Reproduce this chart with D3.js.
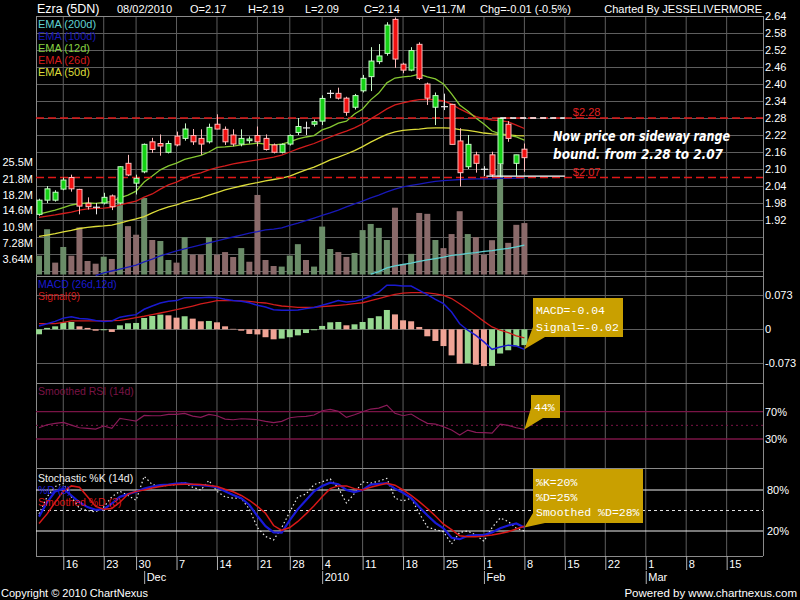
<!DOCTYPE html>
<html><head><meta charset="utf-8">
<script src="https://cdn.jsdelivr.net/npm/d3@7"></script>
<style>
html,body{margin:0;padding:0;background:#000;}
svg{display:block;}
text{font-family:"Liberation Sans",Arial,sans-serif;}
</style></head><body>
<svg id="c" width="800" height="600"></svg>
<script>
// ---------------- DATA ----------------
const headerItems = ["Ezra (5DN)","08/02/2010","O=2.17","H=2.19","L=2.09","C=2.14","V=11.7M","Chg=-0.01 (-0.5%)"];
const chartedBy = "Charted By JESSELIVERMORE";
const prevClose = 1.93;
const open  = [1.94,1.99,1.99,2.029,2.07,2.028,1.979,1.965,1.98,2.005, 1.98,2.12,2.05,2.09,2.196,2.19,2.159,2.216,2.208,2.218, 2.208,2.196,2.258,2.24,2.22,2.188,2.2,2.218,2.208,2.185, 2.159,2.188,2.229,2.245,2.258,2.269,2.367,2.367,2.35,2.318, 2.376,2.426,2.479,2.508,2.628,2.47,2.449,2.54,2.40,2.318, 2.32,2.328,2.199,2.108,2.15,2.099,2.15,2.118,2.258,2.12, 2.17];
const high  = [1.995,2.04,2.025,2.07,2.08,2.03,2.00,1.98,2.016,2.01, 2.11,2.15,2.08,2.19,2.21,2.222,2.20,2.232,2.261,2.241, 2.24,2.26,2.293,2.25,2.24,2.24,2.215,2.25,2.222,2.19, 2.19,2.222,2.28,2.267,2.275,2.36,2.379,2.387,2.355,2.365, 2.432,2.53,2.541,2.618,2.635,2.475,2.53,2.547,2.405,2.37, 2.366,2.33,2.244,2.22,2.161,2.11,2.161,2.28,2.269,2.15, 2.19];
const low   = [1.935,1.98,1.985,2.025,2.02,1.94,1.957,1.94,1.975,1.955, 1.975,2.075,2.01,2.085,2.157,2.147,2.155,2.18,2.20,2.185, 2.15,2.19,2.24,2.185,2.18,2.18,2.19,2.18,2.165,2.155, 2.155,2.183,2.22,2.22,2.25,2.255,2.35,2.345,2.288,2.31, 2.37,2.375,2.47,2.50,2.457,2.438,2.445,2.414,2.326,2.255, 2.308,2.187,2.038,2.10,2.087,2.075,2.073,2.073,2.196,2.076, 2.09];
const close = [1.99,2.03,2.018,2.061,2.03,1.969,1.967,1.965,2.0,1.967, 2.108,2.079,2.067,2.187,2.169,2.181,2.19,2.185,2.241,2.196, 2.188,2.247,2.241,2.196,2.188,2.208,2.206,2.196,2.169,2.159, 2.187,2.218,2.25,2.245,2.267,2.349,2.367,2.35,2.30,2.359, 2.42,2.481,2.499,2.608,2.488,2.449,2.518,2.42,2.35,2.359, 2.32,2.187,2.087,2.187,2.12,2.099,2.079,2.279,2.208,2.15, 2.14];
const volume = [4.28,10.3,2.7,6.26,4.28,10.7,3.07,2.46,4.05,3.53, 17.6,11.0,9.05,17.4,7.85,7.62,3.3,2.7,8.5,4.5, 4.5,8.5,4.5,5.1,3.98,6.0,2.9,18.1,3.3,1.93, 1.8,4.3,6.9,3.3,1.8,10.9,5.8,5.1,4.0,4.9, 10.1,11.5,10.6,7.85,15.2,2.4,4.7,14.0,13.8,7.85, 6.0,9.2,14.4,9.2,8.5,4.5,7.8,25.0,7.2,11.3, 11.7];
const ema12 = [1.941,1.948,1.955,1.964,1.973,1.978,1.980,1.979,1.982,1.985, 1.998,2.008,2.022,2.054,2.075,2.097,2.111,2.121,2.134,2.141, 2.148,2.160,2.176,2.178,2.181,2.185,2.188,2.191,2.188,2.185, 2.188,2.196,2.206,2.213,2.218,2.238,2.248,2.262,2.269,2.294, 2.312,2.344,2.368,2.404,2.421,2.425,2.428,2.435,2.425,2.418, 2.400,2.365,2.326,2.305,2.280,2.259,2.234,2.224,2.220,2.213, 2.202];
const ema26 = [1.929,1.934,1.938,1.943,1.948,1.955,1.959,1.961,1.962,1.965, 1.973,1.980,1.987,2.001,2.012,2.029,2.044,2.054,2.068,2.079, 2.086,2.097,2.105,2.111,2.118,2.123,2.128,2.132,2.137,2.142, 2.149,2.160,2.171,2.181,2.190,2.202,2.213,2.224,2.234,2.245, 2.259,2.277,2.294,2.312,2.326,2.333,2.340,2.345,2.346,2.345, 2.340,2.329,2.312,2.298,2.285,2.278,2.273,2.271,2.266,2.255, 2.243];
const ema50 = [1.862,1.867,1.872,1.878,1.883,1.890,1.894,1.897,1.899,1.902, 1.909,1.917,1.924,1.932,1.945,1.957,1.966,1.973,1.984,1.991, 1.998,2.008,2.017,2.026,2.033,2.040,2.047,2.052,2.058,2.063, 2.068,2.075,2.086,2.097,2.107,2.119,2.132,2.142,2.153,2.165, 2.179,2.195,2.209,2.222,2.231,2.236,2.239,2.241,2.244,2.245, 2.245,2.244,2.239,2.236,2.232,2.227,2.224,2.222,2.220,2.218, 2.217];
const ema100 = [null,null,null,null,null,null,null,1.724,1.733,1.740, 1.747,1.754,1.761,1.772,1.782,1.793,1.802,1.811,1.818,1.825, 1.832,1.839,1.846,1.853,1.860,1.867,1.874,1.879,1.885,1.888, 1.892,1.901,1.909,1.918,1.927,1.936,1.945,1.955,1.966,1.977, 1.987,1.998,2.008,2.019,2.029,2.037,2.042,2.047,2.052,2.056, 2.059,2.061,2.063,2.064,2.065,2.065,2.065,2.067,2.067,2.068, 2.068];
const ema200 = [null,null,null,null,null,null,null,null,null,null, null,null,null,null,null,null,null,null,null,null, null,null,null,null,null,null,null,null,null,null, null,null,null,null,null,null,null,null,null,null, null,1.729,1.738,1.751,1.758,1.763,1.768,1.774,1.779,1.784, 1.789,1.795,1.798,1.802,1.805,1.809,1.812,1.816,1.820,1.825, 1.831];
const macd = [0.0072,0.012,0.017,0.024,0.027,0.023,0.022,0.019,0.017,0.018, 0.026,0.029,0.0315,0.043,0.050,0.0565,0.060,0.0616,0.068,0.068, 0.068,0.0687,0.068,0.0644,0.0616,0.060,0.057,0.0515,0.048,0.042, 0.041,0.041,0.0415,0.0444,0.047,0.0515,0.0565,0.0616,0.0587,0.060, 0.0644,0.0716,0.080,0.0945,0.0945,0.093,0.093,0.0837,0.0744,0.0644, 0.055,0.0372,0.012,-0.002,-0.013,-0.027,-0.043,-0.038,-0.034,-0.036, -0.043];
const signal = [0.012,0.012,0.012,0.015,0.018,0.018,0.018,0.018,0.018,0.0185, 0.019,0.022,0.025,0.028,0.0315,0.035,0.0387,0.042,0.0458,0.050, 0.0544,0.058,0.0616,0.0616,0.0616,0.061,0.060,0.058,0.0565,0.053, 0.050,0.0485,0.047,0.047,0.047,0.0485,0.050,0.0515,0.053,0.055, 0.057,0.0615,0.066,0.0705,0.075,0.0775,0.0787,0.0787,0.078,0.076, 0.073,0.066,0.055,0.043,0.030,0.017,0.005,-0.002,-0.007,-0.014, -0.0186];
const hist = [-0.0107,0.003,0.0064,0.015,0.0157,0.0064,0.003,-0.003,-0.002,-0.0057, 0.0086,0.0129,0.0136,0.0243,0.0286,0.0315,0.030,0.025,0.028,0.0229, 0.0172,0.0179,0.015,0.0064,0.001,-0.003,-0.010,-0.011,-0.017,-0.0215, -0.020,-0.017,-0.013,-0.008,-0.002,0.0072,0.015,0.0157,0.0086,0.0107, 0.0157,0.024,0.028,0.0415,0.032,0.0193,0.0172,0.005,-0.015,-0.025, -0.036,-0.056,-0.074,-0.073,-0.076,-0.079,-0.0785,-0.052,-0.045,-0.0365, -0.034];
const rsi = [46.5,50.9,52.9,54.4,50.4,46.5,45.6,44.6,49,45.6, 60.2,58.2,56.3,64.6,64.1,64.1,66.1,66.1,67.6,63.6, 61.7,66.1,64.1,59.2,58.2,59.7,59.2,58.2,55.9,53.9, 55.9,61.1,62.6,63.1,65.1,71.4,73.4,70.5,61.7,65.6, 70,73.9,75.3,79.7,67.6,64.1,66.6,59.2,52.9,51.9, 48,43.1,35.8,43.1,39.7,39.2,38.7,51.9,50,46.5, 44];
const stochK = [45,70,85,90,70,53,50,48,55,70, 78,72,65,100,88,85,87,88,91,84, 80,94,78,70,68,68,52,25,12,7, 25,48,70,74,88,92,96,83,61,75, 92,90,93,97,68,64,68,46,26,22, 19,1,18,20,14,5,25,39,34,24, 20];
const stochD = [41,62,78,82,72,62,55,51,52,60, 70,74,77.5,82,85,87,88,89.5,90,88, 87,86,84,78,72.7,68,58,42,27,18, 17.6,36,52,65,78,86,90.7,88.5,80,77, 80,88,89,90,82,76,68,55,43,32, 24,10,8,13,14,14,18,24,28,31, 25];
const stochSD = [31,45,62,78,86,84,70,56,52,53, 62,74,78,80,83,85,87,88,88.5,88.5, 88,86.5,85,81,77.5,72,65,56,46,28, 21,25,34,45,57,70,82,86,86,82, 80,84,87,90,87,80,72,63,53,42, 30,22,13,11.7,11.7,12.5,14,16.5,19,23, 27];
// trading-day index of weekly ticks and month starts (Nov 11 2009 = 0)
const weekIdx = [3,8,12,17,22,27,31,35,40,45,50,55,60,65,70,75,80,85];
const weekLabels = ["16","23","30","7","14","21","28","4","11","18","25","1","8","15","22","1","8","15"];
const monthIdx = [13,35,55,75];
const monthLabels = ["Dec","2010","Feb","Mar"];
const priceTicks = [2.64,2.58,2.52,2.46,2.40,2.34,2.28,2.22,2.16,2.10,2.04,1.98,1.92];
const priceGrid = [2.64,2.58,2.52,2.46,2.40,2.34,2.28,2.22,2.16,2.10,2.04,1.98,1.92,1.86,1.80,1.74];
const volTicks = [3.64,7.28,10.9,14.6,18.2,21.8,25.5];
const volLabels = ["3.64M","7.28M","10.9M","14.6M","18.2M","21.8M","25.5M"];
const macdTicks = [0.073,0,-0.073];
const macdLabels = ["0.073","0","-0.073"];
const rsiTicks = [70,30];
const stochTicks = [80,20];
const levels = [2.28,2.07];
const levelLabels = ["$2.28","$2.07"];
const emaLegend = ["EMA (200d)","EMA (100d)","EMA (12d)","EMA (26d)","EMA (50d)"];
const noteLines = ["Now price on sideway range","bound. from 2.28 to 2.07"];
const macdNote = ["MACD=-0.04","Signal=-0.02"];
const rsiNote = ["44%"];
const stochNote = ["%K=20%","%D=25%","Smoothed %D=28%"];

// ---------------- LAYOUT ----------------
const L = 36, R = 763;
const P = {price:[16,276], macd:[276,383], rsi:[383,468], stoch:[468,556]};
const x = d3.scaleLinear().domain([0,60]).range([39,524.4]);
const yP = d3.scaleLinear().domain([1.72,2.64]).range([276.67,16]);
const yV = d3.scaleLinear().domain([0,3.64]).range([274.5,258.5]);
const yM = d3.scaleLinear().domain([-0.073,0.073]).range([363.3,295.3]);
const yR = d3.scaleLinear().domain([30,70]).range([439,411.7]);
const yS = d3.scaleLinear().domain([20,80]).range([531,490]);

const GRID = "#5e5e5e", BORDER = "#8a8a8a";
const svg = d3.select("#c");
svg.append("rect").attr("width",800).attr("height",600).attr("fill","#000");
const defs = svg.append("defs");
function clip(id, y0, y1){
  defs.append("clipPath").attr("id",id).append("rect")
    .attr("x",L).attr("y",y0).attr("width",R-L).attr("height",y1-y0);
}
clip("cp",P.price[0],P.price[1]); clip("cm",P.macd[0],P.macd[1]);
clip("cr",P.rsi[0],P.rsi[1]); clip("cs",P.stoch[0],P.stoch[1]);

// grid
const grid = svg.append("g");
grid.selectAll("line.v").data(weekIdx).join("line")
  .attr("x1",d=>x(d)).attr("x2",d=>x(d)).attr("y1",P.price[0]).attr("y2",P.stoch[1])
  .attr("stroke",GRID).attr("stroke-width",1);
grid.selectAll("line.hp").data(priceGrid).join("line")
  .attr("x1",L).attr("x2",R).attr("y1",d=>Math.round(yP(d))+0.5).attr("y2",d=>Math.round(yP(d))+0.5)
  .attr("stroke",GRID);
grid.selectAll("line.hm").data(macdTicks).join("line")
  .attr("x1",L).attr("x2",R).attr("y1",d=>Math.round(yM(d))+0.5).attr("y2",d=>Math.round(yM(d))+0.5)
  .attr("stroke",GRID);
// panel borders
[P.price[0],P.price[1],P.macd[1],P.rsi[1],P.stoch[1]].forEach(y=>{
  grid.append("line").attr("x1",L).attr("x2",R).attr("y1",y+0.5).attr("y2",y+0.5).attr("stroke",BORDER);
});
[L,R].forEach(xx=>grid.append("line").attr("x1",xx+0.5).attr("x2",xx+0.5).attr("y1",P.price[0]).attr("y2",P.stoch[1]).attr("stroke",BORDER));

// RSI reference lines
const rsiG = svg.append("g");
rsiTicks.forEach(v=>rsiG.append("line").attr("x1",L).attr("x2",R).attr("y1",yR(v)).attr("y2",yR(v)).attr("stroke","#7a1446").attr("stroke-width",1.3));
rsiG.append("line").attr("x1",L).attr("x2",R).attr("y1",yR(50)).attr("y2",yR(50)).attr("stroke","#7a1446").attr("stroke-dasharray","2,3");
// Stoch reference lines
const stG = svg.append("g");
stochTicks.forEach(v=>stG.append("line").attr("x1",L).attr("x2",R).attr("y1",yS(v)).attr("y2",yS(v)).attr("stroke","#f0f0f0").attr("stroke-width",1.2));
stG.append("line").attr("x1",L).attr("x2",R).attr("y1",yS(50)).attr("y2",yS(50)).attr("stroke","#e0e0e0").attr("stroke-dasharray","3,3");

// ---------------- PRICE PANEL ----------------
const pg = svg.append("g").attr("clip-path","url(#cp)");
const vol = volume.map((v,i)=>({i,v,up: close[i] >= (i? close[i-1] : prevClose)}));
pg.selectAll("rect.vol").data(vol).join("rect")
  .attr("x",d=>x(d.i)-3).attr("width",6)
  .attr("y",d=>yV(d.v)).attr("height",d=>yV(0)-yV(d.v))
  .attr("fill",d=>d.up?"#6a8c68":"#8a6a6a");

const lineP = d3.line().defined(d=>d!=null).x((d,i)=>x(i)).y(d=>yP(d));
[[ema200,"#5fd0d0"],[ema100,"#1818b8"],[ema50,"#dcdc3a"],[ema26,"#d21c1c"],[ema12,"#86c832"]].forEach(([arr,c])=>{
  pg.append("path").datum(arr).attr("d",lineP).attr("fill","none").attr("stroke",c).attr("stroke-width",1.3);
});

// level lines
pg.selectAll("line.lvl").data(levels).join("line")
  .attr("x1",L).attr("x2",R).attr("y1",d=>yP(d)).attr("y2",d=>yP(d))
  .attr("stroke","#e01818").attr("stroke-width",1.4).attr("stroke-dasharray","8,4");

// candles
const ohlc = open.map((o,i)=>({i,o,h:high[i],l:low[i],c:close[i]}));
const col = d=> d.c>d.o ? ["#14d014","#c8f8c8"] : d.c<d.o ? ["#f01010","#ffbcbc"] : ["#e8e8e8","#e8e8e8"];
pg.selectAll("line.wick").data(ohlc).join("line")
  .attr("x1",d=>Math.round(x(d.i))+0.5).attr("x2",d=>Math.round(x(d.i))+0.5)
  .attr("y1",d=>yP(d.h)).attr("y2",d=>yP(d.l)).attr("stroke",d=>col(d)[1]).attr("stroke-width",1);
pg.selectAll("rect.body").data(ohlc.filter(d=>d.c!==d.o)).join("rect")
  .attr("x",d=>Math.round(x(d.i))-2).attr("width",5)
  .attr("y",d=>yP(Math.max(d.o,d.c))).attr("height",d=>Math.max(1,Math.abs(yP(d.o)-yP(d.c))))
  .attr("fill",d=>col(d)[0]).attr("stroke",d=>col(d)[1]).attr("stroke-width",1);
pg.selectAll("line.doji").data(ohlc.filter(d=>d.c===d.o)).join("line")
  .attr("x1",d=>Math.round(x(d.i))-3).attr("x2",d=>Math.round(x(d.i))+4)
  .attr("y1",d=>yP(d.c)).attr("y2",d=>yP(d.c)).attr("stroke","#e8e8e8").attr("stroke-width",1.2);

// annotation lines
pg.append("line").attr("x1",x(57)).attr("x2",x(65)).attr("y1",yP(2.28)).attr("y2",yP(2.28))
  .attr("stroke","#ffffff").attr("stroke-width",1.4).attr("stroke-dasharray","6,4");
pg.append("line").attr("x1",x(55.3)).attr("x2",x(65)).attr("y1",yP(2.075)).attr("y2",yP(2.075))
  .attr("stroke","#ffffff").attr("stroke-width",1.4);
svg.selectAll("text.lvl").data(levels).join("text")
  .attr("x",x(65)+8).attr("y",d=>yP(d)-2).text((d,i)=>levelLabels[i])
  .attr("fill","#e02020").attr("font-size",11);
svg.selectAll("text.note").data(noteLines).join("text")
  .attr("x",553).attr("y",(d,i)=>141+i*18).text(d=>d)
  .attr("textLength",(d,i)=>i?170:177).attr("lengthAdjust","spacingAndGlyphs")
  .attr("fill","#fff").attr("font-size",13.5).attr("font-weight","bold").attr("font-style","italic")
  .style("font-family","'Comic Sans MS','DejaVu Sans',sans-serif");

// EMA legend
const legCols = ["#5fd0d0","#1818b8","#86d040","#d21c1c","#dcdc3a"];
svg.selectAll("text.leg").data(emaLegend).join("text")
  .attr("x",38).attr("y",(d,i)=>28+i*12).text(d=>d).attr("fill",(d,i)=>legCols[i]).attr("font-size",11);

// ---------------- MACD PANEL ----------------
const mg = svg.append("g").attr("clip-path","url(#cm)");
mg.selectAll("rect.h").data(hist.map((v,i)=>({i,v,up: i? v>=hist[i-1] : true}))).join("rect")
  .attr("x",d=>x(d.i)-3).attr("width",6)
  .attr("y",d=>Math.min(yM(d.v),yM(0))).attr("height",d=>Math.abs(yM(d.v)-yM(0)))
  .attr("fill",d=>d.up?"#96d890":"#f0a496");
const lineM = d3.line().x((d,i)=>x(i)).y(d=>yM(d));
mg.append("path").datum(signal).attr("d",lineM).attr("fill","none").attr("stroke","#d01c1c").attr("stroke-width",1.3);
mg.append("path").datum(macd).attr("d",lineM).attr("fill","none").attr("stroke","#1a1ad0").attr("stroke-width",1.5);
svg.append("text").attr("x",38).attr("y",288).text("MACD (26d,12d)").attr("fill","#1a1ad0").attr("font-size",10.5);
svg.append("text").attr("x",38).attr("y",300).text("Signal(9)").attr("fill","#d01c1c").attr("font-size",10.5);

// ---------------- RSI PANEL ----------------
const rg = svg.append("g").attr("clip-path","url(#cr)");
rg.append("path").datum(rsi).attr("d",d3.line().x((d,i)=>x(i)).y(d=>yR(d)))
  .attr("fill","none").attr("stroke","#8a1a58").attr("stroke-width",1.2);
svg.append("text").attr("x",38).attr("y",395).text("Smoothed RSI (14d)").attr("fill","#7a1446").attr("font-size",10.5);

// ---------------- STOCH PANEL ----------------
const sg = svg.append("g").attr("clip-path","url(#cs)");
const lineS = d3.line().x((d,i)=>x(i)).y(d=>yS(d));
sg.append("path").datum(stochK).attr("d",lineS).attr("fill","none").attr("stroke","#e8e8e8").attr("stroke-width",1.2).attr("stroke-dasharray","1.5,2.5");
sg.append("path").datum(stochD).attr("d",lineS).attr("fill","none").attr("stroke","#1a1ad8").attr("stroke-width",2.2);
sg.append("path").datum(stochSD).attr("d",lineS).attr("fill","none").attr("stroke","#d81818").attr("stroke-width",1.5);
svg.append("text").attr("x",38).attr("y",482).text("Stochastic %K (14d)").attr("fill","#f0f0f0").attr("font-size",10.5);
svg.append("text").attr("x",38).attr("y",494).text("%D (3)").attr("fill","#1a1ad8").attr("font-size",10.5);
svg.append("text").attr("x",38).attr("y",506).text("Smoothed %D (3)").attr("fill","#d81818").attr("font-size",10.5);

// ---------------- CALLOUTS ----------------
function callout(b, tip, lines, y0, dy){
  const p = `M${b[0]},${b[1]}H${b[2]}V${b[3]}H${b[0]+12}L${tip[0]},${tip[1]}L${b[0]},${b[3]-10}Z`;
  svg.append("path").attr("d",p).attr("fill","#c9a000");
  lines.forEach((t,i)=>svg.append("text").attr("x",b[0]+3).attr("y",y0+i*dy).text(t)
    .attr("fill","#fff").attr("font-size",11.5).style("font-family","'Liberation Mono','Courier New',monospace"));
}
callout([533,298,623,337],[x(60),yM(macd[60])],macdNote,314,17);
callout([531,395,560,418],[x(60),yR(rsi[60])],rsiNote,411,0);
callout([533,469,643,523],[x(60),yS(stochD[60])],stochNote,486,15);

// ---------------- AXES ----------------
function styleAxis(g){ g.select(".domain").remove(); g.selectAll("text").attr("fill","#fff").attr("font-size",11).style("font-family","'Liberation Sans',Arial,sans-serif"); }
svg.append("g").attr("transform",`translate(${R},0)`)
  .call(d3.axisRight(yP).tickValues(priceTicks).tickSize(0).tickPadding(2).tickFormat(d3.format(".2f"))).call(styleAxis);
svg.append("g").attr("transform",`translate(35,0)`)
  .call(d3.axisLeft(yV).tickValues(volTicks).tickSize(0).tickPadding(2).tickFormat((d,i)=>volLabels[i])).call(styleAxis);
svg.append("g").attr("transform",`translate(${R},0)`)
  .call(d3.axisRight(yM).tickValues(macdTicks).tickSize(0).tickPadding(2).tickFormat((d,i)=>macdLabels[i])).call(styleAxis);
svg.append("g").attr("transform",`translate(${R},0)`)
  .call(d3.axisRight(yR).tickValues(rsiTicks).tickSize(0).tickPadding(2).tickFormat(d=>d+"%")).call(styleAxis);
svg.append("g").attr("transform",`translate(${R},0)`)
  .call(d3.axisRight(yS).tickValues(stochTicks).tickSize(0).tickPadding(4).tickFormat(d=>d+"%")).call(styleAxis);

const xa = svg.append("g").attr("transform",`translate(0,${P.stoch[1]})`)
  .call(d3.axisBottom(x).tickValues(weekIdx).tickSize(14).tickFormat((d,i)=>weekLabels[i])).call(styleAxis);
xa.selectAll(".tick line").attr("stroke","#b0b0b0");
xa.selectAll(".tick text").attr("text-anchor","start").attr("x",2).attr("y",12).attr("dy",null);
const ma = svg.append("g").attr("transform",`translate(0,571)`)
  .call(d3.axisBottom(x).tickValues(monthIdx).tickSize(13).tickFormat((d,i)=>monthLabels[i])).call(styleAxis);
ma.selectAll(".tick line").attr("stroke","#b0b0b0");
ma.selectAll(".tick text").attr("text-anchor","start").attr("x",2).attr("y",10).attr("dy",null);

// ---------------- HEADER / FOOTER ----------------
const hx = [37,117,190,248,305,364,422,480];
svg.selectAll("text.hdr").data(headerItems).join("text")
  .attr("x",(d,i)=>hx[i]).attr("y",12.5).text(d=>d).attr("fill","#fff").attr("font-size",(d,i)=>i?11:12.5);
svg.append("text").attr("x",762).attr("y",12.5).attr("text-anchor","end").text(chartedBy).attr("fill","#fff").attr("font-size",11);
svg.append("text").attr("x",1).attr("y",597).text("Copyright \u00A9 2010 ChartNexus").attr("fill","#fff").attr("font-size",11);
svg.append("text").attr("x",797).attr("y",597).attr("text-anchor","end").text("Powered by www.chartnexus.com").attr("fill","#fff").attr("font-size",11.5);
</script>
</body></html>
